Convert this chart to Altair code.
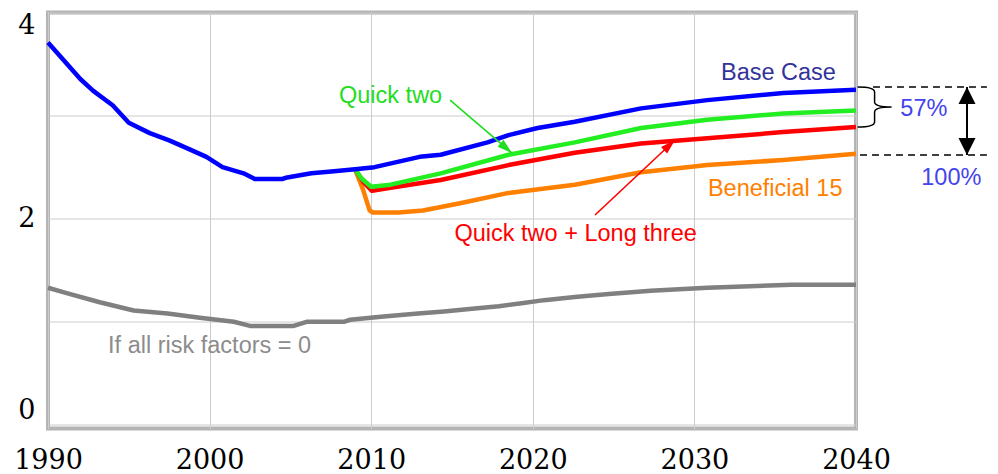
import altair as alt
import pandas as pd

# ---- series ----
base_years = [1990, 1992, 1992.8, 1994, 1995, 1996.3, 1997.5, 1998.8, 1999.8, 2000.8, 2002.1,
              2002.8, 2004.5, 2004.8, 2006.3, 2007.7, 2009, 2010.2, 2013.0, 2014.3, 2017.2,
              2018.5, 2020.3, 2022.6, 2026.7, 2030.8, 2035.5, 2040]
base_vals = [3.71, 3.355, 3.24, 3.10, 2.93, 2.83, 2.76, 2.67, 2.60, 2.50, 2.44,
             2.385, 2.385, 2.40, 2.44, 2.46, 2.48, 2.50, 2.60, 2.62, 2.74,
             2.81, 2.88, 2.94, 3.07, 3.15, 3.22, 3.25]

qt_years = [2009, 2009.4, 2010.0, 2011.2, 2014.3, 2018.5, 2022.6, 2026.7, 2030.8, 2035.5, 2040]
qt_vals = [2.48, 2.39, 2.31, 2.33, 2.44, 2.62, 2.74, 2.88, 2.96, 3.02, 3.05]

ql_years = [2009, 2009.5, 2010.05, 2011.2, 2014.3, 2018.5, 2022.6, 2026.7, 2030.8, 2035.5, 2040]
ql_vals = [2.48, 2.36, 2.27, 2.30, 2.375, 2.52, 2.64, 2.73, 2.78, 2.84, 2.89]

b15_years = [2009, 2009.5, 2009.9, 2010.1, 2011.7, 2013.2, 2015.5, 2018.5, 2022.6, 2026.7,
             2030.8, 2035.5, 2040]
b15_vals = [2.48, 2.28, 2.08, 2.06, 2.06, 2.08, 2.15, 2.25, 2.33, 2.45, 2.52, 2.57, 2.63]

zero_years = [1990, 1991.1, 1993.2, 1995.3, 1997.4, 1999.4, 2001.5, 2002.5, 2005.2, 2006,
              2008.3, 2008.7, 2010.6, 2012.9, 2014.5, 2016.4, 2017.9, 2019.3, 2020.7, 2022.6,
              2024.7, 2027.3, 2030.8, 2036, 2040]
zero_vals = [1.33, 1.28, 1.19, 1.11, 1.08, 1.04, 1.00, 0.96, 0.96, 1.00,
             1.00, 1.02, 1.05, 1.08, 1.10, 1.13, 1.15, 1.18, 1.21, 1.24,
             1.27, 1.30, 1.33, 1.36, 1.36]

series_names = ["If all risk factors = 0", "Beneficial 15", "Quick two + Long three",
                "Quick two", "Base Case"]
series_colors = ["#808080", "#ff8000", "#ff0000", "#22ee22", "#0000ff"]

x_ticks = [1990, 2000, 2010, 2020, 2030, 2040]
y_ticks = [0, 1, 2, 3, 4]

# annotation labels: text, x (year), y (value)
labels = [
    ("Base Case", 2035.2, 3.41),
    ("Quick two", 2011.2, 3.19),
    ("Quick two + Long three", 2022.65, 1.85),
    ("Beneficial 15", 2035.0, 2.29),
    ("If all risk factors = 0", 2000.0, 0.77),
    ("57%", 2044.2, 3.06),
    ("100%", 2045.9, 2.39),
]
label_colors = {
    "Base Case": "#333399",
    "Quick two": "#22dd22",
    "Quick two + Long three": "#ff0000",
    "Beneficial 15": "#ff8000",
    "If all risk factors = 0": "#8c8c8c",
    "57%": "#4444ee",
    "100%": "#4444ee",
}

# pointer arrows: (x, y) tail -> (x2, y2) head
green_arrow = [(2014.88, 3.151, 2018.71, 2.637)]
red_arrow = [(2023.85, 2.036, 2028.8, 2.763)]

# right-side bracket annotation
dash_lines = [(2041.05, 3.277, 2048.1), (2040.25, 2.618, 2048.1)]
double_arrow = [(2046.87, 3.277, 2.618)]
brace_pos = [(2041.15, 3.083)]

SERIF = "DejaVu Serif"

# ---- build tables ----
rows = []
for name, ys, vs in [
    ("If all risk factors = 0", zero_years, zero_vals),
    ("Beneficial 15", b15_years, b15_vals),
    ("Quick two + Long three", ql_years, ql_vals),
    ("Quick two", qt_years, qt_vals),
    ("Base Case", base_years, base_vals),
]:
    for i, (yr, v) in enumerate(zip(ys, vs)):
        rows.append({"series": name, "x": yr, "y": v, "i": i})
df = pd.DataFrame(rows)

xscale = alt.Scale(domain=[1990, 2040], nice=False)
yscale = alt.Scale(domain=[-0.035, 4], nice=False, zero=False)

X = alt.X("x:Q", scale=xscale, axis=alt.Axis(
    values=x_ticks, format="d", title=None, ticks=False, domain=False,
    labelFont=SERIF, labelFontSize=27, labelColor="black",
    labelPadding=19, labelFlush=False, gridColor="#cccccc", gridWidth=1))
Y = alt.Y("y:Q", scale=yscale, axis=alt.Axis(
    values=y_ticks, format="d", title=None, ticks=False, domain=False,
    labelExpr="datum.value % 2 == 0 ? datum.label : ''",
    labelFont=SERIF, labelFontSize=27, labelColor="black",
    labelPadding=13, labelFlush=6, gridColor="#cccccc", gridWidth=1))

lines = alt.Chart(df).mark_line(strokeWidth=4.5, strokeJoin="round").encode(
    x=X, y=Y,
    color=alt.Color("series:N", scale=alt.Scale(domain=series_names, range=series_colors),
                    legend=None),
    detail="series:N",
    order="i:Q",
)

layers = [lines]

# pointer arrows
head_up = "M0,0 L-0.3,1 L0.3,1 Z"
for arr, col, ang in [(green_arrow, "#22dd22", 130.5), (red_arrow, "#ff0000", 46.8)]:
    adf = pd.DataFrame(arr, columns=["x", "y", "x2", "y2"])
    layers.append(alt.Chart(adf).mark_rule(color=col, strokeWidth=1.6).encode(
        x="x:Q", y="y:Q", x2="x2:Q", y2="y2:Q"))
    hdf = pd.DataFrame({"x": [a[2] for a in arr], "y": [a[3] for a in arr]})
    layers.append(alt.Chart(hdf).mark_point(shape=head_up, filled=True, size=900, color=col,
                                            opacity=1, strokeWidth=0, angle=ang).encode(
        x="x:Q", y="y:Q"))

# dashed guide lines
ddf = pd.DataFrame(dash_lines, columns=["x", "y", "x2"])
layers.append(alt.Chart(ddf).mark_rule(color="black", strokeWidth=1.5, strokeDash=[7, 5]).encode(
    x="x:Q", y="y:Q", x2="x2:Q"))

# double-headed arrow
vdf = pd.DataFrame(double_arrow, columns=["x", "y", "y2"])
layers.append(alt.Chart(vdf).mark_rule(color="black", strokeWidth=2).encode(
    x="x:Q", y="y:Q", y2="y2:Q"))
top_df = pd.DataFrame({"x": [d[0] for d in double_arrow], "y": [d[1] for d in double_arrow]})
bot_df = pd.DataFrame({"x": [d[0] for d in double_arrow], "y": [d[2] for d in double_arrow]})
layers.append(alt.Chart(top_df).mark_point(shape="M0,0 L-0.5,1 L0.5,1 Z", filled=True, size=1156,
                                           color="black", opacity=1, strokeWidth=0).encode(
    x="x:Q", y="y:Q"))
layers.append(alt.Chart(bot_df).mark_point(shape="M0,0 L-0.5,-1 L0.5,-1 Z", filled=True, size=1156,
                                           color="black", opacity=1, strokeWidth=0).encode(
    x="x:Q", y="y:Q"))

# brace
brace_path = ("M-0.85,-1 Q0,-1 0,-0.75 L0,-0.25 Q0,0 0.85,0 "
              "Q0,0 0,0.25 L0,0.75 Q0,1 -0.85,1")
bdf = pd.DataFrame(brace_pos, columns=["x", "y"])
layers.append(alt.Chart(bdf).mark_point(shape=brace_path, filled=False, size=1600,
                                        color="black", opacity=1, strokeWidth=1.5).encode(
    x="x:Q", y="y:Q"))

# text labels
for text, lx, ly in labels:
    tdf = pd.DataFrame({"x": [lx], "y": [ly], "t": [text]})
    layers.append(alt.Chart(tdf).mark_text(font="Liberation Sans", fontSize=23.5,
                                           align="center", baseline="middle",
                                           color=label_colors[text]).encode(
        x="x:Q", y="y:Q", text="t:N"))

chart = alt.layer(*layers).properties(
    width=808, height=416,
    padding={"left": 40, "top": 4.5, "right": 134, "bottom": 45},
    autosize=alt.AutoSizeParams(type="none"),
).configure_view(stroke="#b4b4b4", strokeWidth=4)

chart.save("out.html", embed_options={"renderer": "svg", "actions": False})
